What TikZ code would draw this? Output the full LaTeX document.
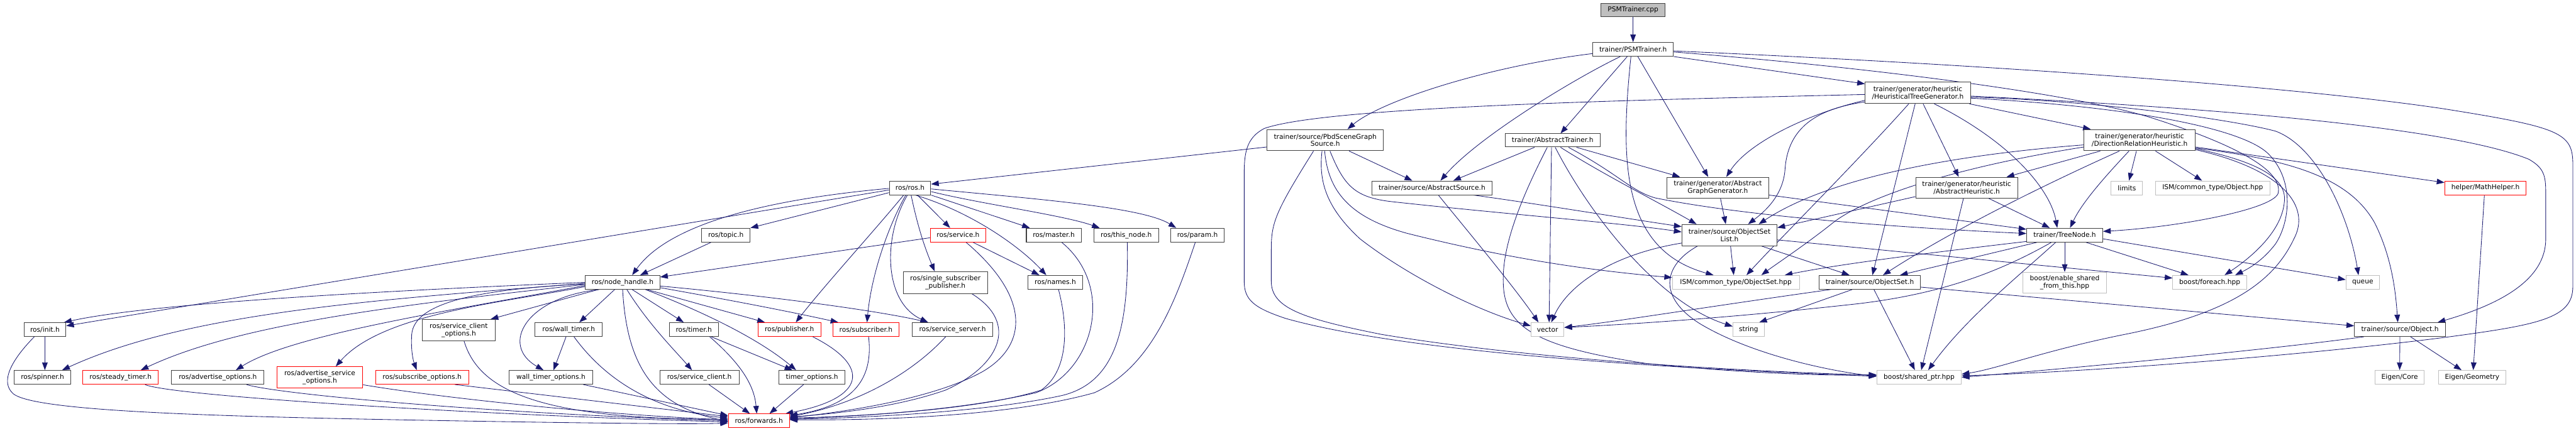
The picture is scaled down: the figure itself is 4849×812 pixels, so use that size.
\documentclass[tikz,border=0pt]{standalone}
\usepackage{fontspec}
\setmainfont{DejaVu Sans}
\usetikzlibrary{arrows.meta,backgrounds}
\pgfdeclarelayer{bgzero}
\pgfsetlayers{bgzero,background,main}
\definecolor{edgec}{RGB}{25,25,112}
\definecolor{gbord}{RGB}{191,191,191}
\definecolor{dbord}{RGB}{64,64,64}
\newcommand\fnt{\fontsize{12.6}{14}\selectfont}
\newcommand\BX[7]{\node[#1,minimum width={#5-#3},minimum height={#6-#4}] (#2) at ({(#3+#5)/2},{(#4+#6)/2}) {#7};}
\begin{document}
\begin{tikzpicture}[x=1pt,y=-1pt,
  nd/.style={draw=dbord,line width=1.2pt,fill=white,inner sep=0pt,align=center,font=\fnt,text=black},
  ext/.style={nd,draw=gbord},
  rn/.style={nd,draw=red},
  rootn/.style={nd,fill=gbord},
  edg/.style={draw=edgec,line width=1pt,-{Triangle[length=14.5pt,width=10.5pt]}}]
\useasboundingbox (0,0) rectangle (4849,812);
\begin{pgfonlayer}{bgzero}
\fill[white] (0,0) rectangle (4849,812);
\end{pgfonlayer}
% ---------- trainer nodes
\BX{rootn}{cpp}{3014}{6}{3134}{31}{PSMTrainer.cpp}
\BX{nd}{psm}{2998}{80}{3150}{106}{trainer/PSMTrainer.h}
\BX{nd}{htg}{3511}{155}{3709}{195}{trainer/generator/heuristic\\/HeuristicalTreeGenerator.h}
\BX{nd}{pbd}{2385}{244}{2604}{284}{trainer/source/PbdSceneGraph\\Source.h}
\BX{nd}{atr}{2833}{252}{3012}{277}{trainer/AbstractTrainer.h}
\BX{nd}{drh}{3923}{244}{4132}{284}{trainer/generator/heuristic\\/DirectionRelationHeuristic.h}
\BX{nd}{asrc}{2582}{341}{2809}{367}{trainer/source/AbstractSource.h}
\BX{nd}{agg}{3138}{334}{3329}{373}{trainer/generator/Abstract\\GraphGenerator.h}
\BX{nd}{ahe}{3606}{334}{3798}{373}{trainer/generator/heuristic\\/AbstractHeuristic.h}
\BX{ext}{lim}{3974}{341}{4033}{367}{limits}
\BX{ext}{ismo}{4057}{341}{4273}{367}{ISM/common\_type/Object.hpp}
\BX{rn}{mh}{4602}{341}{4755}{367}{helper/MathHelper.h}
\BX{nd}{osl}{3166}{423}{3345}{463}{trainer/source/ObjectSet\\List.h}
\BX{nd}{tn}{3815}{430}{3958}{456}{trainer/TreeNode.h}
\BX{ext}{ismos}{3148}{519}{3387}{545}{ISM/common\_type/ObjectSet.hpp}
\BX{nd}{os}{3424}{519}{3615}{545}{trainer/source/ObjectSet.h}
\BX{ext}{esft}{3808}{513}{3965}{552}{boost/enable\_shared\\\_from\_this.hpp}
\BX{ext}{fe}{4090}{519}{4229}{545}{boost/foreach.hpp}
\BX{ext}{qu}{4416}{519}{4479}{545}{queue}
\BX{ext}{vec}{2882}{608}{2944}{634}{vector}
\BX{ext}{str}{3262}{608}{3321}{634}{string}
\BX{nd}{obj}{4432}{608}{4603}{634}{trainer/source/Object.h}
\BX{ext}{sp}{3533}{698}{3692}{724}{boost/shared\_ptr.hpp}
\BX{ext}{ec}{4471}{698}{4563}{724}{Eigen/Core}
\BX{ext}{eg}{4590}{698}{4717}{724}{Eigen/Geometry}
% ---------- ros nodes
\BX{nd}{ros}{1674}{341}{1752}{367}{ros/ros.h}
\BX{nd}{topic}{1321}{430}{1412}{456}{ros/topic.h}
\BX{rn}{srv}{1751}{430}{1856}{456}{ros/service.h}
\BX{nd}{mst}{1932}{430}{2035}{456}{ros/master.h}
\BX{nd}{thn}{2059}{430}{2181}{456}{ros/this\_node.h}
\BX{nd}{par}{2204}{430}{2304}{456}{ros/param.h}
\BX{nd}{nh}{1102}{519}{1242}{545}{ros/node\_handle.h}
\BX{nd}{ssp}{1700}{512}{1859}{553}{ros/single\_subscriber\\\_publisher.h}
\BX{nd}{nam}{1935}{519}{2038}{545}{ros/names.h}
\BX{nd}{init}{45}{608}{124}{634}{ros/init.h}
\BX{nd}{sco}{795}{602}{932}{642}{ros/service\_client\\\_options.h}
\BX{nd}{wt}{1007}{608}{1134}{634}{ros/wall\_timer.h}
\BX{nd}{tim}{1260}{608}{1352}{634}{ros/timer.h}
\BX{rn}{pub}{1427}{608}{1545}{634}{ros/publisher.h}
\BX{rn}{sub}{1568}{608}{1692}{634}{ros/subscriber.h}
\BX{nd}{ssrv}{1717}{608}{1869}{634}{ros/service\_server.h}
\BX{nd}{spin}{27}{698}{133}{724}{ros/spinner.h}
\BX{rn}{stt}{156}{698}{298}{724}{ros/steady\_timer.h}
\BX{nd}{ao}{323}{698}{497}{724}{ros/advertise\_options.h}
\BX{rn}{aso}{521}{691}{683}{731}{ros/advertise\_service\\\_options.h}
\BX{rn}{so}{707}{698}{882}{724}{ros/subscribe\_options.h}
\BX{nd}{wto}{958}{698}{1116}{724}{wall\_timer\_options.h}
\BX{nd}{sc}{1242}{698}{1391}{724}{ros/service\_client.h}
\BX{nd}{tmo}{1466}{698}{1591}{724}{timer\_options.h}
\BX{rn}{fw}{1371}{780}{1486}{806}{ros/forwards.h}
\begin{pgfonlayer}{background}
% ---------- trainer edges
\draw[edg] (cpp) -- (psm);
\draw[edg] ([yshift=-8]psm.west) .. controls (2800,125) and (2600,190) .. ([xshift=42]pbd.north);
\draw[edg] ([xshift=-24]psm.south) .. controls (2960,150) and (2780,260) .. ([xshift=16]asrc.north);
\draw[edg] ([xshift=-11]psm.south) -- ([xshift=15]atr.north);
\draw[edg] ([xshift=-4]psm.south) .. controls (3050,300) and (3050,470) .. ([xshift=-42]ismos.north);
\draw[edg] ([xshift=9]psm.south) -- ([xshift=-18]agg.north);
\draw[edg] (psm.south east) -- ([yshift=17]htg.west);
\draw[edg] ([yshift=-3]psm.east) .. controls (3700,120) and (4300,160) .. (4600,205) .. controls (4820,240) and (4843,250) .. (4843,310) -- (4843,540) .. controls (4843,600) and (4780,612) .. (4600,636) .. controls (4350,668) and (3950,700) .. ([yshift=3]sp.east);
\draw[edg] ([yshift=-5]psm.east) .. controls (3500,125) and (3900,175) .. (4050,222) .. controls (4200,270) and (4300,320) .. (4288,365) .. controls (4275,395) and (4100,428) .. ([yshift=7]tn.east);
\draw[edg] ([yshift=-13]pbd.west) -- ([yshift=7]ros.east);
\draw[edg] ([xshift=45]pbd.south) -- ([xshift=-37]asrc.north);
\draw[edg] ([xshift=-6]pbd.south) .. controls (2482,340) and (2495,390) .. (2560,450) .. controls (2650,520) and (2780,585) .. ([yshift=7]vec.west);
\draw[edg] ([xshift=9]pbd.south) .. controls (2530,350) and (2550,372) .. (2620,380) .. controls (2850,405) and (3050,420) .. ([yshift=6]osl.west);
\draw[edg] ([xshift=-1]pbd.south) .. controls (2500,360) and (2540,410) .. (2650,440) .. controls (2850,490) and (3000,510) .. ([yshift=9]ismos.west);
\draw[edg] ([xshift=-22]pbd.south) .. controls (2400,400) and (2393,420) .. (2393,470) -- (2393,530) .. controls (2393,580) and (2450,600) .. (2600,630) .. controls (2900,680) and (3300,700) .. ([yshift=4]sp.west);
\draw[edg] ([yshift=-3]htg.west) .. controls (3100,188) and (2500,200) .. (2380,242) .. controls (2345,260) and (2342,290) .. (2342,330) -- (2342,530) .. controls (2342,565) and (2360,580) .. (2420,600) .. controls (2650,665) and (3150,695) .. ([yshift=2]sp.west);
\draw[edg] ([yshift=-14]htg.west) .. controls (3400,215) and (3290,270) .. ([xshift=16]agg.north);
\draw[edg] ([yshift=-17]htg.west) .. controls (3420,205) and (3365,240) .. (3360,320) .. controls (3356,370) and (3320,400) .. ([xshift=35]osl.north);
\draw[edg] ([xshift=-17]htg.south) .. controls (3500,300) and (3350,450) .. ([xshift=20]ismos.north);
\draw[edg] ([xshift=-5]htg.south) -- ([xshift=5]os.north);
\draw[edg] ([xshift=10]htg.south) -- ([xshift=-15]ahe.north);
\draw[edg] ([xshift=31]htg.south) .. controls (3790,270) and (3860,360) .. ([xshift=-14]tn.north);
\draw[edg] ([xshift=97]htg.south) -- ([xshift=-92]drh.north);
\draw[edg] ([yshift=-6]htg.east) .. controls (4100,200) and (4600,235) .. (4760,300) .. controls (4792,318) and (4792,335) .. (4792,370) -- (4792,450) .. controls (4792,530) and (4700,575) .. ([xshift=71]obj.north);
\draw[edg] ([yshift=-8]htg.east) .. controls (3950,190) and (4200,225) .. (4283,247) .. controls (4360,275) and (4420,400) .. ([xshift=-8]qu.north);
\draw[edg] ([yshift=-10]htg.east) .. controls (4000,200) and (4220,240) .. (4270,290) .. controls (4320,340) and (4310,420) .. (4283,460) .. controls (4260,490) and (4235,505) .. ([xshift=48]fe.north);
\draw[edg] ([xshift=-34]atr.south) -- ([xshift=40]asrc.north);
\draw[edg] ([xshift=-2]atr.south) -- ([xshift=3]vec.north);
\draw[edg] ([xshift=-10]atr.south) .. controls (2860,380) and (2825,470) .. (2830,540) .. controls (2835,620) and (2900,655) .. (3100,685) .. controls (3300,705) and (3450,708) .. ([yshift=5]sp.west);
\draw[edg] ([xshift=5]atr.south) .. controls (2990,400) and (3120,570) .. ([yshift=6]str.west);
\draw[edg] ([xshift=15]atr.south) .. controls (3020,330) and (3120,380) .. ([xshift=-62]osl.north);
\draw[edg] ([xshift=45]atr.south) -- ([xshift=-71]agg.north);
\draw[edg] ([xshift=30]atr.south) .. controls (3050,330) and (3070,360) .. (3116,373) .. controls (3300,410) and (3600,430) .. ([yshift=3]tn.west);
\draw[edg] ([xshift=78]asrc.south) .. controls (2900,385) and (3050,410) .. ([yshift=16]osl.west);
\draw[edg] ([xshift=12]asrc.south) .. controls (2750,420) and (2850,540) .. ([xshift=-17]vec.north);
\draw[edg] ([xshift=5]agg.south) -- ([xshift=-7]osl.north);
\draw[edg] ([yshift=-14]agg.east) -- ([yshift=11]tn.west);
\draw[edg] ([yshift=-15]osl.west) .. controls (3030,480) and (2950,540) .. ([xshift=7]vec.north);
\draw[edg] ([xshift=-60]osl.south) .. controls (3130,500) and (3120,560) .. (3200,610) .. controls (3300,670) and (3450,700) .. ([yshift=2]sp.west);
\draw[edg] ([xshift=2]osl.south) -- ([xshift=-4]ismos.north);
\draw[edg] ([xshift=60]osl.south) -- ([xshift=-38]os.north);
\draw[edg] ([yshift=-9]osl.east) -- ([yshift=8]fe.west);
\draw[edg] ([xshift=-74]os.south) .. controls (3200,580) and (3050,605) .. ([yshift=4]vec.east);
\draw[edg] ([xshift=-33]os.south) -- ([xshift=20]str.north);
\draw[edg] ([xshift=8]os.south) -- ([xshift=-8]sp.north);
\draw[edg] ([yshift=-9]os.east) -- ([yshift=7]obj.west);
\draw[edg] ([yshift=-12]tn.west) .. controls (3600,480) and (3450,500) .. ([xshift=92]ismos.north);
\draw[edg] ([xshift=-52]tn.south) -- ([xshift=57]os.north);
\draw[edg] ([xshift=-25]tn.south) .. controls (3750,520) and (3640,555) .. (3500,572) .. controls (3250,600) and (3050,612) .. ([yshift=4]vec.east);
\draw[edg] ([xshift=-17]tn.south) .. controls (3800,520) and (3700,600) .. ([xshift=17]sp.north);
\draw[edg] (tn.south) -- (esft.north);
\draw[edg] ([xshift=40]tn.south) -- ([xshift=-40]fe.north);
\draw[edg] ([yshift=-7]tn.east) -- ([yshift=5]qu.west);
\draw[edg] ([xshift=-74]drh.south) -- ([xshift=75]ahe.north);
\draw[edg] ([xshift=-38]drh.south) .. controls (3800,370) and (3650,450) .. ([xshift=25]os.north);
\draw[edg] ([xshift=-20]drh.south) .. controls (3965,330) and (3920,380) .. ([xshift=10]tn.north);
\draw[edg] ([xshift=-6]drh.south) -- ([xshift=4]lim.north);
\draw[edg] ([xshift=30]drh.south) -- ([xshift=-20]ismo.north);
\draw[edg] ([yshift=-9]drh.west) .. controls (3700,290) and (3450,330) .. ([xshift=55]osl.north);
\draw[edg] ([yshift=-13]drh.west) .. controls (3650,320) and (3500,380) .. (3450,420) .. controls (3400,460) and (3340,500) .. ([xshift=48]ismos.north);
\draw[edg] ([yshift=-13]drh.east) -- ([yshift=10]mh.west);
\draw[edg] ([yshift=-15]drh.east) .. controls (4300,300) and (4420,330) .. (4470,420) .. controls (4505,490) and (4510,560) .. ([xshift=-4]obj.north);
\draw[edg] ([yshift=-16]drh.east) .. controls (4250,305) and (4305,335) .. (4300,380) .. controls (4295,440) and (4230,490) .. ([xshift=28]fe.north);
\draw[edg] ([yshift=-18]drh.east) .. controls (4300,320) and (4350,390) .. (4318,450) .. controls (4280,530) and (4200,590) .. (4000,630) .. controls (3850,660) and (3760,695) .. ([yshift=6]sp.east);
\draw[edg] ([xshift=41]ahe.south) -- ([xshift=-28]tn.north);
\draw[edg] ([xshift=-6]ahe.south) -- ([xshift=4]sp.north);
\draw[edg] ([yshift=-17]ahe.west) -- ([yshift=14]osl.east);
\draw[edg] ([xshift=-2]mh.south) -- ([xshift=2]eg.north);
\draw[edg] (obj.south) -- (ec.north);
\draw[edg] ([xshift=20]obj.south) -- ([xshift=-20]eg.north);
\draw[edg] ([xshift=-68]obj.south) .. controls (4300,655) and (4000,685) .. (sp.east);
% ---------- ros edges
\draw[edg] ([yshift=-4]ros.west) -- ([yshift=7]init.east);
\draw[edg] ([yshift=-1]ros.west) .. controls (1450,375) and (1260,420) .. ([xshift=18]nh.north);
\draw[edg] ([yshift=-9]ros.west) -- (topic.north east);
\draw[edg] ([xshift=14]ros.south) -- ([xshift=-15]srv.north);
\draw[edg] (ros.south east) -- ([xshift=-45]mst.north);
\draw[edg] ([yshift=-7]ros.east) .. controls (1850,385) and (2000,405) .. ([xshift=-50]thn.north);
\draw[edg] ([yshift=-2]ros.east) .. controls (1950,375) and (2150,390) .. ([xshift=-40]par.north);
\draw[edg] ([xshift=10]ros.south) .. controls (1830,400) and (1920,465) .. ([xshift=-17]nam.north);
\draw[edg] ([xshift=2]ros.south) .. controls (1728,430) and (1742,470) .. ([xshift=-20]ssp.north);
\draw[edg] ([xshift=-12]ros.south) .. controls (1650,430) and (1550,540) .. ([xshift=12]pub.north);
\draw[edg] ([xshift=-8]ros.south) .. controls (1670,430) and (1640,520) .. ([xshift=2]sub.north);
\draw[edg] ([xshift=-5]ros.south) .. controls (1660,450) and (1665,570) .. ([xshift=-46]ssrv.north);
\draw[edg] ([yshift=-5]srv.west) -- ([yshift=10]nh.east);
\draw[edg] ([xshift=28]srv.south) -- ([xshift=-30]nam.north);
\draw[edg] ([xshift=15]srv.south) .. controls (1940,560) and (1935,650) .. (1850,700) .. controls (1760,750) and (1600,775) .. ([yshift=6]fw.east);
\draw[edg] ([xshift=15]mst.south) .. controls (2100,540) and (2060,700) .. (1950,740) .. controls (1800,775) and (1600,785) .. ([yshift=4]fw.east);
\draw[edg] ([xshift=2]thn.south) .. controls (2125,620) and (2100,720) .. (2000,745) .. controls (1850,778) and (1600,788) .. ([yshift=3]fw.east);
\draw[edg] ([xshift=-4]par.south) .. controls (2215,560) and (2170,690) .. (2060,740) .. controls (1900,785) and (1650,792) .. ([yshift=2]fw.east);
\draw[edg] ([xshift=6]nam.south) .. controls (2012,620) and (2010,700) .. (1960,735) .. controls (1850,770) and (1650,783) .. ([yshift=5]fw.east);
\draw[edg] ([xshift=50]ssp.south) .. controls (1920,610) and (1880,690) .. (1780,735) .. controls (1680,770) and (1560,780) .. ([yshift=7]fw.east);
\draw[edg] ([xshift=-13]ssrv.south) .. controls (1720,700) and (1620,760) .. ([yshift=8]fw.east);
\draw[edg] ([xshift=5]sub.south) .. controls (1645,720) and (1600,765) .. ([yshift=10]fw.east);
\draw[edg] ([xshift=44]pub.south) .. controls (1640,690) and (1630,750) .. ([xshift=50]fw.north);
\draw[edg] ([xshift=-16]tmo.south) -- ([xshift=20]fw.north);
\draw[edg] ([xshift=18]sc.south) -- ([xshift=-17]fw.north);
\draw[edg] ([xshift=30]tim.south) .. controls (1400,690) and (1420,730) .. ([xshift=-4]fw.north);
\draw[edg] ([xshift=33]tim.south) -- ([xshift=-37]tmo.north);
\draw[edg] ([xshift=-5]wt.south) -- ([xshift=5]wto.north);
\draw[edg] ([xshift=10]wt.south) .. controls (1150,730) and (1250,775) .. ([yshift=5]fw.west);
\draw[edg] ([xshift=61]wto.south) -- ([yshift=10]fw.west);
\draw[edg] ([xshift=10]sco.south) .. controls (900,730) and (1000,790) .. ([yshift=3]fw.west);
\draw[edg] ([xshift=62]so.south) -- ([yshift=8]fw.west);
\draw[edg] ([yshift=-14]aso.east) .. controls (800,745) and (1100,780) .. ([yshift=2]fw.west);
\draw[edg] ([xshift=54]ao.south) .. controls (520,742) and (900,778) .. (fw.west);
\draw[edg] ([xshift=46]stt.south) .. controls (320,746) and (900,782) .. ([yshift=-2]fw.west);
\draw[edg] ([xshift=-20]init.south) .. controls (20,680) and (0,720) .. (25,742) .. controls (60,770) and (300,782) .. (700,790) .. controls (1000,796) and (1300,800) .. ([yshift=-4]fw.west);
\draw[edg] (init.south) -- ([xshift=4.5]spin.north);
\draw[edg] (nh.south) .. controls (1180,690) and (1230,765) .. ([yshift=-1]fw.west);
\draw[edg] (nh.west) .. controls (800,545) and (300,568) .. ([xshift=36]init.north);
\draw[edg] ([yshift=-2]nh.west) .. controls (700,565) and (350,590) .. ([xshift=37]spin.north);
\draw[edg] ([yshift=-4]nh.west) .. controls (750,575) and (450,610) .. ([xshift=38]stt.north);
\draw[edg] ([yshift=-6]nh.west) .. controls (850,585) and (550,630) .. ([xshift=34]ao.north);
\draw[edg] ([yshift=-8]nh.west) .. controls (950,570) and (720,590) .. ([xshift=30]aso.north);
\draw[edg] ([yshift=-3]nh.west) .. controls (900,545) and (780,570) .. (775,630) .. controls (773,660) and (778,680) .. ([xshift=-10]so.north);
\draw[edg] ([xshift=-46]nh.south) -- ([xshift=60]sco.north);
\draw[edg] ([xshift=-44]nh.south) .. controls (990,560) and (940,650) .. ([xshift=-14]wto.north);
\draw[edg] ([xshift=-15]nh.south) -- ([xshift=20]wt.north);
\draw[edg] ([xshift=8]nh.south) .. controls (1220,610) and (1270,660) .. ([xshift=-14]sc.north);
\draw[edg] ([xshift=18]nh.south) -- ([xshift=-19]tim.north);
\draw[edg] ([xshift=46]nh.south) -- ([xshift=-46]pub.north);
\draw[edg] ([xshift=43]nh.south) .. controls (1330,590) and (1430,640) .. ([xshift=-30]tmo.north);
\draw[edg] ([yshift=-10]nh.east) .. controls (1400,570) and (1500,590) .. ([xshift=-52]sub.north);
\draw[edg] ([yshift=-7]nh.east) .. controls (1450,558) and (1650,585) .. ([xshift=-46]ssrv.north);
\draw[edg] ([xshift=-28]topic.south) -- ([xshift=33]nh.north);
\end{pgfonlayer}
\end{tikzpicture}
\end{document}
